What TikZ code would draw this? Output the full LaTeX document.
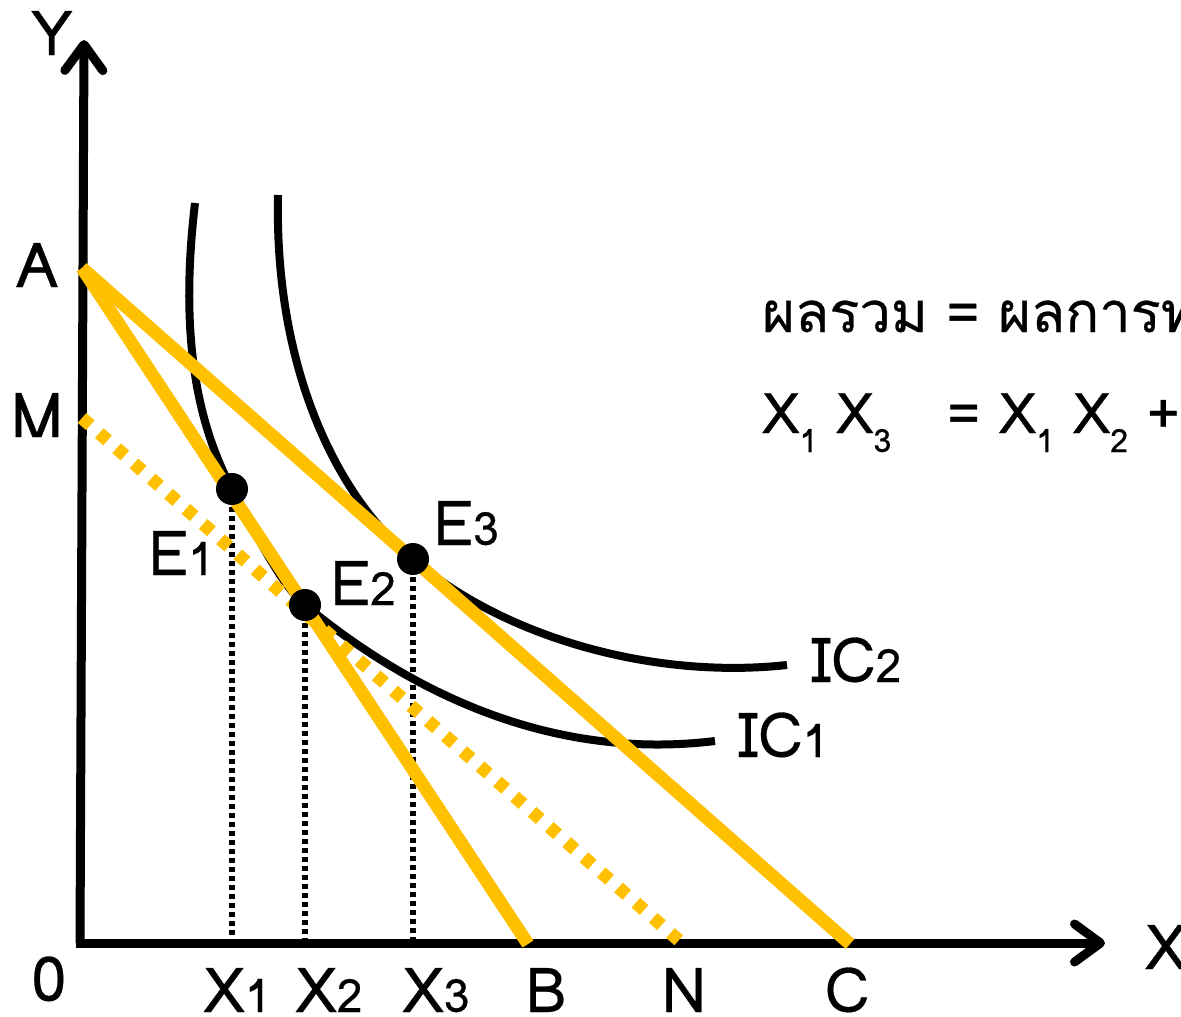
\documentclass[tikz,border=0pt]{standalone}
\usepackage{fontspec}
\newfontfamily\lf[Script=Thai,FakeBold=0.5]{Loma}
\usetikzlibrary{arrows.meta}
\definecolor{gold}{HTML}{FFC000}
\newcommand\sbl[1]{{\fontsize{46}{46}\selectfont #1}}
\newcommand\sbr[1]{\raisebox{-19pt}{\fontsize{32}{32}\selectfont #1}}
\begin{document}
\begin{tikzpicture}[x=1pt,y=-1pt,
  axis/.style={line width=9pt,-{Straight Barb[length=26pt,width=38pt,round]}},
  bud/.style={gold,line width=13pt},
  buddot/.style={gold,line width=13pt,dash pattern=on 11pt off 12pt},
  ic/.style={line width=8pt},
  drop/.style={line width=5.5pt,dash pattern=on 5pt off 4pt},
  dot/.style={circle,fill=black,inner sep=0pt,minimum size=32pt},
  lab/.style={inner sep=0pt,text depth=0pt,font=\lf\fontsize{62}{62}\selectfont},
  txt/.style={inner sep=0pt,font=\lf\fontsize{56}{56}\selectfont}]
\useasboundingbox (0,0) rectangle (1181,1017);
\clip (0,0) rectangle (1181,1017);
\fill[white] (0,0) rectangle (1181,1017);
% points
\coordinate (O) at (80,943);
\coordinate (Ytip) at (84,40);
\coordinate (Xs) at (76,943);
\coordinate (Xtip) at (1105,943);
\coordinate (A) at (82,268);
\coordinate (M) at (82,418);
\coordinate (B) at (528,944);
\coordinate (N) at (683,944);
\coordinate (C) at (850,944);
\coordinate (E1) at (232,489);
\coordinate (E2) at (305,605);
\coordinate (E3) at (413,559);
\coordinate (F1) at (232,943);
\coordinate (F2) at (305,943);
\coordinate (F3) at (413,943);
% axes
\draw[axis] (O) -- (Ytip);
\draw[axis] (Xs) -- (Xtip);
% indifference curves
\draw[ic] (195,203) .. controls (180,330) and (195,420) .. (E1)
  .. controls (254,530) and (280,584) .. (E2)
  .. controls (420,700) and (560,760) .. (715,741);
\draw[ic] (278,195) .. controls (274,380) and (345,505) .. (E3)
  .. controls (500,635) and (650,680) .. (787,665);
% drop lines
\draw[drop] (E1) -- (F1);
\draw[drop] (E2) -- (F2);
\draw[drop] (E3) -- (F3);
% budget lines
\draw[buddot] (M) -- (N);
\draw[bud] (A) -- (B);
\draw[bud] (A) -- (C);
% points
\node[dot] (dE1) at (E1) {};
\node[dot] (dE2) at (E2) {};
\node[dot] (dE3) at (E3) {};
% labels
\node[lab,anchor=base] (lY) at (52,55) {Y};
\node[lab,anchor=base] (lA) at (37,287) {A};
\node[lab,anchor=base] (lM) at (37,437) {M};
\node[lab,anchor=base] (l0) at (49,1001) {0};
\node[lab,anchor=base] (lX1) at (237,1012) {X\sbl{1}};
\node[lab,anchor=base] (lX2) at (329,1012) {X\sbl{2}};
\node[lab,anchor=base] (lX3) at (436,1012) {X\sbl{3}};
\node[lab,anchor=base] (lB) at (546,1012) {B};
\node[lab,anchor=base] (lN) at (684,1012) {N};
\node[lab,anchor=base] (lC) at (847,1012) {C};
\node[lab,anchor=base west] (lX) at (1145,969) {X};
\node[lab,anchor=base west] (lE1) at (148,575) {E\sbl{1}};
\node[lab,anchor=base west] (lE2) at (330,605) {E\sbl{2}};
\node[lab,anchor=base west] (lE3) at (433,545) {E\sbl{3}};
\node[lab,anchor=base west] (lIC2) at (811,682) {IC\sbl{2}};
\node[lab,anchor=base west] (lIC1) at (738,757) {IC\sbl{1}};
\node[txt,anchor=base west] (t1) at (762,332) {ผลรวม = ผลการทดแทน + ผลรายได้};
\node[txt,anchor=base west] (t2) at (762,433) {X\sbr{1} X\sbr{3}\quad = X\sbr{1} X\sbr{2} + X\sbr{2} X\sbr{3}};
\end{tikzpicture}
\end{document}
